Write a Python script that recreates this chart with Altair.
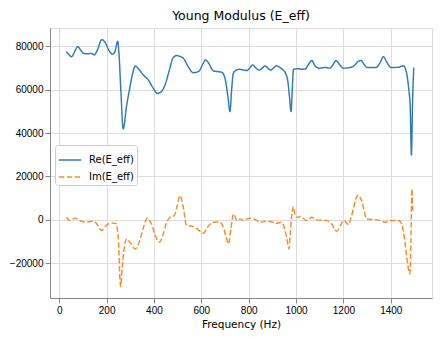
import altair as alt
import pandas as pd

re_freq = [30, 40, 52, 65, 78, 90, 102, 120, 135, 148, 160, 180, 195, 210, 225, 235, 247, 252, 260, 270,
           285, 299, 310, 322, 335, 355, 376, 395, 414, 430, 447, 465, 480, 496, 510, 524, 545, 566, 590,
           605, 618, 632, 651, 670, 686, 700, 712, 721, 728, 735, 745, 760, 780, 792, 805, 817, 830, 845,
           858, 869, 880, 893, 905, 918, 932, 946, 956, 965, 972, 979, 984, 989, 1010, 1025, 1038, 1052,
           1066, 1080, 1098, 1122, 1143, 1156, 1169, 1184, 1200, 1228, 1250, 1262, 1275, 1288, 1300, 1337,
           1355, 1369, 1384, 1401, 1432, 1453, 1467, 1476, 1482, 1487, 1492, 1497]
re_val = [77500, 76200, 75200, 77500, 79800, 78300, 76700, 76500, 76700, 76000, 78000, 83000, 81500, 78000,
          76300, 77500, 82300, 77000, 60000, 41900, 53000, 61400, 67500, 70900, 69500, 66800, 64500, 61000,
          58300, 59000, 62200, 69000, 74500, 75700, 75300, 74500, 70500, 67800, 68500, 71500, 73700, 72000,
          68600, 68300, 68000, 65200, 57000, 49900, 60000, 67500, 68800, 69400, 69000, 68800, 70000, 71400,
          70000, 69000, 70000, 70900, 70000, 69000, 70000, 71000, 70200, 69000, 67500, 64000, 57000, 49900,
          60000, 69400, 69600, 69400, 69500, 71500, 73400, 71000, 69900, 70200, 69900, 71500, 73400, 71500,
          69900, 70200, 71500, 73000, 73400, 71500, 70200, 70200, 72500, 75200, 72500, 70200, 70300, 71000,
          67500, 60000, 52000, 29900, 55000, 70200]

im_freq = [30, 45, 55, 66, 78, 87, 100, 109, 125, 144, 160, 179, 195, 207, 221, 239, 249, 259, 266, 273,
           285, 300, 320, 335, 348, 360, 372, 380, 390, 405, 423, 438, 451, 468, 486, 498, 510, 522, 538,
           550, 566, 590, 608, 625, 644, 660, 679, 693, 705, 714, 725, 736, 750, 764, 777, 790, 812, 830,
           848, 865, 883, 900, 918, 939, 952, 962, 970, 976, 981, 989, 995, 1002, 1010, 1019, 1030, 1042,
           1055, 1066, 1087, 1110, 1129, 1150, 1172, 1188, 1200, 1210, 1221, 1232, 1242, 1252, 1263, 1272,
           1281, 1290, 1298, 1320, 1341, 1360, 1376, 1397, 1432, 1446, 1460, 1472, 1481, 1485, 1489, 1493,
           1497]
im_val = [1200, -300, 200, 800, 300, -300, -800, -1100, -900, -600, -2000, -4900, -3000, -1900, -1400, -1600,
          -8000, -30700, -22000, -14200, -8800, -10500, -13400, -11000, -6500, -2000, 800, -200, -1900, -7000,
          -10300, -7000, -1900, 1200, 2000, 6500, 11200, 7000, -2600, -2800, -3100, -4800, -6200, -3500, -1400,
          -1000, -1100, -3400, -8000, -11100, -4000, 2750, -300, 450, -300, 300, 800, 0, -1100, -800, -600,
          -1000, -1550, -1100, -4200, -9000, -13400, -6000, 1200, 6100, 2500, 1200, 1200, 1700, 800, -300, 500,
          1200, 0, -200, -300, -1900, -5200, -2500, -300, -1000, -2200, 1000, 5000, 9500, 11500, 10000, 7400,
          3000, 450, 200, 0, -500, -1100, -300, -300, -1900, -10300, -21000, -24900, -10000, 14300, 4400, 5000]

series = ["Re(E_eff)", "Im(E_eff)"]
x_ticks = [0, 200, 400, 600, 800, 1000, 1200, 1400]
y_ticks = [-20000, 0, 20000, 40000, 60000, 80000]

df = pd.concat([
    pd.DataFrame({"freq": re_freq, "value": re_val, "series": series[0]}),
    pd.DataFrame({"freq": im_freq, "value": im_val, "series": series[1]}),
])

FONT = "DejaVu Sans"

legend_kw = dict(title=None, orient="none", legendX=5, legendY=117,
                 symbolType="stroke", symbolSize=500, symbolStrokeWidth=1.5,
                 labelFont=FONT, labelFontSize=10, labelColor="#000",
                 fillColor="white", strokeColor="#cccccc", cornerRadius=3,
                 padding=3, rowPadding=-5, labelOffset=7)

chart = alt.Chart(df).mark_line(strokeWidth=1.45, interpolate="monotone").encode(
    x=alt.X("freq:Q",
            scale=alt.Scale(domain=[-39, 1574], nice=False, zero=False),
            axis=alt.Axis(values=x_ticks, title="Frequency (Hz)", format="d",
                          titleFontWeight="normal", titleFont=FONT, titleFontSize=10.5)),
    y=alt.Y("value:Q",
            scale=alt.Scale(domain=[-36000, 88400], nice=False, zero=False),
            axis=alt.Axis(values=y_ticks, title=None,
                          labelExpr="replace(format(datum.value, 'd'), '-', '\u2212')")),
    color=alt.Color("series:N",
                    scale=alt.Scale(domain=series, range=["#2f7bb8", "#fb8a2a"]),
                    legend=alt.Legend(**legend_kw)),
    strokeDash=alt.StrokeDash("series:N",
                              scale=alt.Scale(domain=series, range=[[1, 0], [5.5, 2.4]]),
                              legend=alt.Legend(**legend_kw)),
).properties(
    width=382, height=270,
    title=alt.TitleParams("Young Modulus (E_eff)", font=FONT, fontSize=12.5, fontWeight="normal",
                          color="#000", anchor="middle", offset=8, dy=12, baseline="alphabetic"),
    autosize=alt.AutoSizeParams(type="none"),
    padding={"left": 50, "top": 28, "right": 9, "bottom": 41},
).configure_view(
    stroke="#000", strokeWidth=0.8
).configure_axis(
    grid=True, gridColor="#b0b0b0", gridWidth=0.8,
    domainColor="#000", domainWidth=0.8,
    tickColor="#000", tickWidth=0.8, tickSize=3.5,
    labelFont=FONT, labelFontSize=10.5, labelColor="#000", labelPadding=3.5,
    titleFont=FONT, titleFontSize=10.5, titleFontWeight="normal", titleColor="#000", titlePadding=4,
).configure(background="white")

chart.save("out.html", embed_options={"renderer": "svg", "actions": False})
